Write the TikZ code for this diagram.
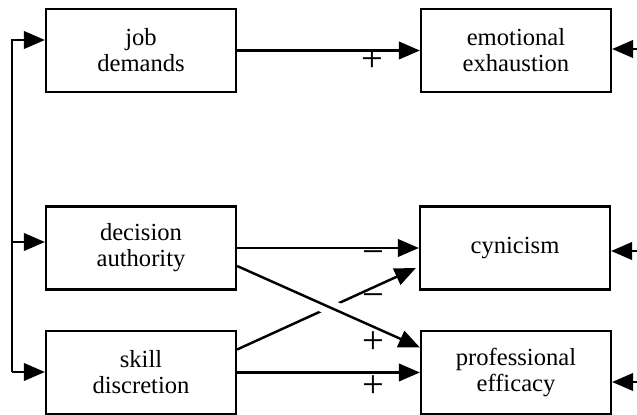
\documentclass[tikz,border=0pt]{standalone}
\usepackage{fontspec}
\setmainfont{Liberation Serif}
\usetikzlibrary{arrows.meta,calc}

\begin{document}
\begin{tikzpicture}[x=0.02cm, y=-0.02cm, line width=1.4pt,
	box/.style={draw, rectangle, line width=1.3pt, minimum width=3.8cm, minimum height=1.66cm, inner sep=0pt, align=center, font=\fontsize{14}{14.8}\selectfont},
	arr/.style={-{Triangle[length=12pt,width=10pt]}},
	sign/.style={inner sep=0pt, font=\fontsize{22}{22}\selectfont}]
	\useasboundingbox (0,0) rectangle (637,415);
	
	\node[box] (jd) at (141,50.5) {job\\demands};
	\node[box] (da) at (141,248) {decision\\authority};
	\node[box] (sd) at (141,372.5) {skill\\discretion};
	\node[box] (ee) at (516,50.5) {emotional\\exhaustion};
	\node[box] (cy) at (515,248) {cynicism};
	\node[box] (pe) at (516,372.5) {professional\\efficacy};
	
	\coordinate (b1) at (12,40);
	\coordinate (b2) at (12,242);
	\coordinate (b3) at (12,372);
	\coordinate (r1) at (637,49);
	\coordinate (r2) at (637,251);
	\coordinate (r3) at (637,382);
	
	\draw[arr] (b3) -- (b1) -- (b1 -| jd.west);
	\draw[arr] (b2) -- (b2 -| da.west);
	\draw[arr] (b3) -- (b3 -| sd.west);
	
	\draw[arr] (jd.east) -- (ee.west);
	\draw[arr] (da.east) -- (cy.west);
	\draw[arr] (sd.east) -- (pe.west);
	
	\coordinate (sdout) at ($(sd.east)+(0,-23)$);
	\coordinate (cyin) at ($(cy.west)+(-3,20)$);
	\coordinate (daout) at ($(da.east)+(0,18)$);
	\coordinate (pein) at ($(pe.west)+(0,-25)$);
	\draw[arr] (sdout) -- (cyin);
	\draw[white, line width=9pt] ($(daout)!0.44!(pein)$) -- ($(daout)!0.58!(pein)$);
	\draw[arr] (daout) -- (pein);
	
	\draw[arr] (r1) -- (r1 -| ee.east);
	\draw[arr] (r2) -- (r2 -| cy.east);
	\draw[arr] (r3) -- (r3 -| pe.east);
	
	\foreach \n/\p/\s in {s1/{(372,61)}/+, s2/{(373,258)}/−, s3/{(373,301)}/−, s4/{(373,343)}/+, s5/{(373,387)}/+} {
		\node[sign] (\n) at \p {\s};
	}
\end{tikzpicture}
\end{document}
